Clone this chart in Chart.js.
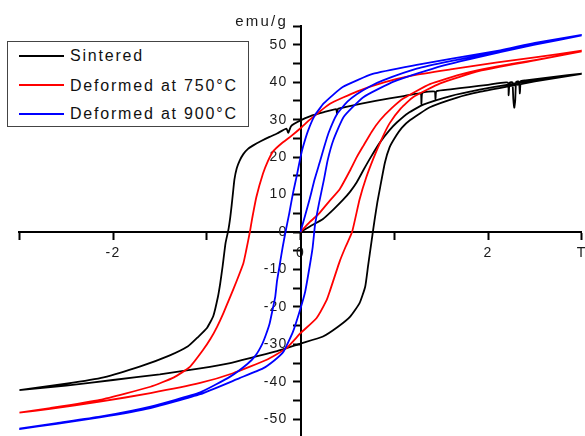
<!DOCTYPE html>
<html><head><meta charset="utf-8">
<script src="https://cdn.jsdelivr.net/npm/chart.js@4.4.1/dist/chart.umd.min.js"></script>
<style>
html,body{margin:0;padding:0;background:#fff;}
#wrap{position:relative;width:585px;height:436px;overflow:hidden;background:#fff;}
#c{position:absolute;left:0;top:0;}
#legend{position:absolute;left:7px;top:41px;width:240px;height:84px;border:1.5px solid #444;background:#fff;
 font-family:"Liberation Sans",Arial,sans-serif;font-size:16px;letter-spacing:1.8px;color:#111;}
.row{position:absolute;left:0;height:20px;line-height:20px;white-space:nowrap;}
.sw{display:inline-block;width:45px;height:2px;margin-left:11px;margin-right:6px;vertical-align:middle;position:relative;top:-1px;}
#unit{position:absolute;right:297px;top:12px;font-family:"Liberation Sans",Arial,sans-serif;font-size:15px;letter-spacing:2.2px;color:#1a1a1a;}
</style></head>
<body><div id="wrap"><canvas id="c" width="585" height="436"></canvas><div id="legend"></div><div id="unit">emu/g</div></div>
<script>
// ---- data (field in T, magnetisation in emu/g) ----
const seriesNames = ['Sintered', 'Deformed at 750°C', 'Deformed at 900°C'];
const seriesColors = ['#000000', '#ff0000', '#0000ff'];

const xTickValues = [-3, -2, -1, 0, 1, 2, 3];
const xTickLabels = ['', '-2', '', '0', '', '2', 'T'];
const yTickValues = [-50,-45,-40,-35,-30,-25,-20,-15,-10,-5,0,5,10,15,20,25,30,35,40,45,50,55];
const yTickLabels = ['-50','','-40','','-30','','-20','','-10','','0','','10','','20','','30','','40','','50',''];

// Sintered
const sinteredInitial = [[0,0],[0.1,1.5],[0.24,3.5],[0.35,6],[0.45,8.5],[0.53,10.8],[0.6,13.3],[0.67,16.5],[0.75,20],[0.85,24],[0.95,27.2],[1.03,29.3],[1.15,31.8],[1.31,34],[1.6,36.3],[1.91,38],[2.2,39.3],[2.5,40.6],[3,42.2]];
const sinteredDown = [[3,42.3],[2.7,41.4],[2.4,40.5],[2.35,40.3],[2.34,37],[2.33,40.2],[2.3,40.1],[2.29,35],[2.28,33.2],[2.27,35.5],[2.26,40],[2.23,39.9],[2.22,36.5],[2.21,39.9],[2.0,39.3],[1.8,38.7],[1.6,38.1],[1.45,37.6],[1.44,35.5],[1.43,37.5],[1.3,37.1],[1.29,34.2],[1.28,37],[1.1,36.3],[0.8,35],[0.5,33.5],[0.4,32.9],[0.39,31.5],[0.38,32.8],[0.25,32],[0.1,30.9],[0,29.8],[-0.1,28.3],[-0.13,26.5],[-0.15,27.6],[-0.25,26.3],[-0.33,25.4],[-0.42,24.3],[-0.5,23.2],[-0.56,22.2],[-0.61,20.8],[-0.65,19],[-0.68,17],[-0.705,14],[-0.72,10.5],[-0.735,7],[-0.75,3.8],[-0.77,0.5],[-0.8,-3],[-0.83,-9],[-0.855,-13.5],[-0.88,-17.2],[-0.93,-22.4],[-1.0,-25.7],[-1.1,-28.2],[-1.2,-30.5],[-1.4,-33],[-1.7,-35.8],[-2.1,-38.8],[-2.5,-40.5],[-3,-42.2]];
const sinteredUp = [[-3,-42.2],[-2.5,-41],[-2,-39.5],[-1.5,-38],[-1.07,-36.4],[-0.75,-35],[-0.5,-33.4],[-0.25,-31.8],[0,-29.8],[0.24,-27.9],[0.4,-25.3],[0.53,-22.6],[0.63,-19],[0.69,-14.6],[0.72,-9.2],[0.76,-2.1],[0.79,3.2],[0.82,8],[0.85,12],[0.9,18.5],[0.95,22.6],[1.01,25.3],[1.08,27.8],[1.17,29.9],[1.38,33.3],[1.67,35.9],[1.91,37.4],[2.2,38.8],[2.5,40.2],[3,42.2]];

// Deformed at 750 C
const d750Initial = [[0,0],[0.1,2.7],[0.2,5],[0.3,8],[0.42,11.5],[0.53,16.5],[0.6,20],[0.67,23],[0.76,26.8],[0.85,29.9],[0.97,33],[1.1,35.7],[1.38,39.5],[1.74,42.3],[2.1,44.2],[2.5,45.9],[3,48.2]];
const d750Down = [[3,48.4],[2.5,46.6],[2.1,45.3],[1.6,43.4],[1.2,41.8],[0.9,40],[0.6,37.5],[0.31,34.2],[0.1,30],[0,27.7],[-0.11,25.4],[-0.2,23.7],[-0.29,21.6],[-0.35,18.8],[-0.4,15.6],[-0.47,9.4],[-0.52,3],[-0.54,0],[-0.58,-5],[-0.61,-8.4],[-0.68,-13],[-0.75,-17.3],[-0.82,-21.5],[-0.89,-25.3],[-0.96,-28.5],[-1.04,-31.5],[-1.18,-36],[-1.35,-38.8],[-1.6,-41.3],[-2.14,-44.8],[-2.67,-47],[-3,-48.2]];
const d750Up = [[-3,-48.2],[-2.67,-47.2],[-2.14,-45.3],[-1.6,-43],[-1.07,-40.3],[-0.72,-37.7],[-0.36,-34.1],[-0.15,-31],[0,-27],[0.17,-23],[0.28,-18.1],[0.31,-16],[0.42,-7.7],[0.48,-4],[0.55,0],[0.63,8.7],[0.7,14.5],[0.78,19.8],[0.86,24.5],[0.95,29],[1.07,33],[1.2,36],[1.49,39.7],[1.91,43],[2.5,45.8],[3,48.2]];

// Deformed at 900 C
const d900Initial = [[0,0],[0.05,4.5],[0.1,9],[0.15,14],[0.21,19],[0.25,22.5],[0.3,26.5],[0.39,31.5],[0.5,34.8],[0.6,36.8],[0.75,39],[0.88,40.5],[1.24,43.6],[1.6,45.6],[2.1,48],[2.5,50],[3,52.5]];
const d900Down = [[3,52.6],[2.5,50.5],[2.13,48.5],[1.6,46.2],[1.24,44.6],[0.77,42.2],[0.45,38.7],[0.25,34.4],[0.15,31],[0.08,27],[0.03,23],[0,20],[-0.04,15],[-0.08,10.4],[-0.12,5],[-0.16,0],[-0.19,-4],[-0.22,-8.5],[-0.25,-13],[-0.27,-17.4],[-0.3,-21],[-0.33,-24.5],[-0.37,-27.5],[-0.41,-30],[-0.48,-33],[-0.57,-35.3],[-0.75,-38.6],[-1.07,-42.8],[-1.6,-46.6],[-2.14,-49.3],[-2.6,-51],[-3,-52.5]];
const d900Up = [[-3,-52.6],[-2.6,-51.2],[-2.14,-49.5],[-1.6,-47],[-1.07,-43.3],[-0.65,-39],[-0.4,-36.4],[-0.28,-34.3],[-0.18,-31.9],[-0.08,-26.6],[0,-20.4],[0.05,-15.9],[0.1,-8.8],[0.13,-4],[0.155,1.9],[0.2,8],[0.25,14],[0.29,19.2],[0.35,24.5],[0.46,30.7],[0.67,36],[1.0,40.2],[1.5,44.3],[2.13,48],[2.5,50],[3,52.5]];

const loops = [
  [sinteredInitial, sinteredDown, sinteredUp],
  [d750Initial, d750Down, d750Up],
  [d900Initial, d900Down, d900Up]
];

// ---- chart ----
const FONT = '"Liberation Sans", Arial, sans-serif';
const TICK_LEN = 7, LABEL_GAP = 6;

class CrossLinearScale extends Chart.LinearScale {
  _computeLabelItems(chartArea) {
    const items = super._computeLabelItems(chartArea);
    if (this.axis === 'y') {
      items.forEach(it => { it.options.translation[0] -= (TICK_LEN + LABEL_GAP); });
    }
    return items;
  }
}
CrossLinearScale.id = 'crossLinear';
CrossLinearScale.defaults = Chart.LinearScale.defaults;
Chart.register(CrossLinearScale);

function zeroPad(s) { s.paddingLeft = 0; s.paddingRight = 0; s.paddingTop = 0; s.paddingBottom = 0; }

const spacingPlugin = {
  id: 'spacing',
  beforeDraw(chart) { try { chart.ctx.letterSpacing = '1.2px'; } catch (e) {} }
};

const datasets = loops.map((parts, i) => ({
  label: seriesNames[i],
  data: [].concat(...parts).map(p => ({x: p[0], y: p[1]})),
  showLine: true,
  borderColor: seriesColors[i],
  backgroundColor: seriesColors[i],
  borderWidth: 1.8,
  pointRadius: 0,
  tension: 0.15,
  fill: false
}));

const axisCommon = {
  type: 'crossLinear',
  grid: { display: true, drawOnChartArea: false, drawTicks: true, tickLength: TICK_LEN, tickWidth: 2, tickColor: '#000' },
  border: { display: true, color: '#000', width: 2 },
  afterFit: zeroPad
};

new Chart(document.getElementById('c'), {
  type: 'scatter',
  data: { datasets: datasets.reverse() },
  plugins: [spacingPlugin],
  options: {
    responsive: false,
    animation: false,
    layout: { padding: { left: 19.25, right: 3.25, top: 26, bottom: 0 } },
    plugins: { legend: { display: false }, tooltip: { enabled: false } },
    scales: {
      x: Object.assign({}, axisCommon, {
        position: { y: 0 }, min: -3, max: 3,
        afterBuildTicks: s => { s.ticks = xTickValues.map(v => ({ value: v })); },
        ticks: { autoSkip: false, maxRotation: 0, padding: 6, color: '#1a1a1a', font: { family: FONT, size: 14 },
          callback: (v, i) => xTickLabels[xTickValues.indexOf(v)] }
      }),
      y: Object.assign({}, axisCommon, {
        position: { x: 0 }, min: -54.45, max: 55,
        afterBuildTicks: s => { s.ticks = yTickValues.map(v => ({ value: v })); },
        ticks: { autoSkip: false, padding: 0, color: '#1a1a1a', font: { family: FONT, size: 14 },
          callback: (v, i) => yTickLabels[yTickValues.indexOf(v)] }
      })
    }
  }
});

// ---- legend (HTML) ----
const legend = document.getElementById('legend');
const rowCenters = [14, 43.5, 72];
seriesNames.forEach((name, i) => {
  const row = document.createElement('div');
  row.className = 'row';
  row.style.top = (rowCenters[i] - 10) + 'px';
  const sw = document.createElement('span');
  sw.className = 'sw';
  sw.style.background = seriesColors[i];
  row.appendChild(sw);
  row.appendChild(document.createTextNode(name));
  legend.appendChild(row);
});
</script>
</body></html>
